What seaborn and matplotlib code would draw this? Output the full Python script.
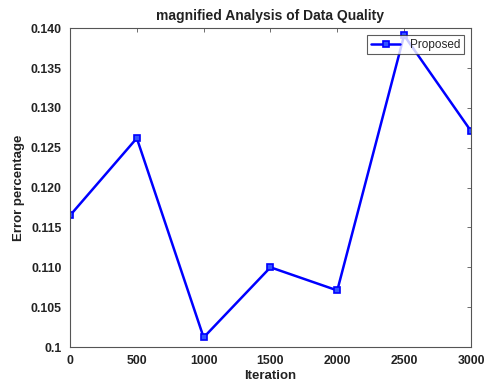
import matplotlib
matplotlib.use("Agg")
import matplotlib.pyplot as plt
import seaborn as sns
import pandas as pd
from matplotlib.ticker import FixedLocator, FixedFormatter

iterations = [0, 500, 1000, 1500, 2000, 2500, 3000]
error_pct = [0.1165, 0.1262, 0.1012, 0.1100, 0.1071, 0.1391, 0.1271]
y_ticks = [0.1, 0.105, 0.110, 0.115, 0.120, 0.125, 0.130, 0.135, 0.140]
y_tick_labels = ["0.1", "0.105", "0.110", "0.115", "0.120", "0.125", "0.130", "0.135", "0.140"]
x_ticks = [0, 500, 1000, 1500, 2000, 2500, 3000]

sns.set_style("white")
plt.rcParams['font.family'] = ['Liberation Sans', 'DejaVu Sans']

df = pd.DataFrame({"Iteration": iterations, "Error": error_pct, "series": "Proposed"})

fig = plt.figure(figsize=(4.86, 3.86), dpi=100)
ax = fig.add_axes([0.144, 0.101, 0.825, 0.826])
sns.lineplot(data=df, x="Iteration", y="Error", hue="series", palette=["#0000ff"],
             marker="s", markersize=4, linewidth=1.8, markeredgewidth=1.2,
             markeredgecolor="#0000ff", markerfacecolor="#3355ff",
             ax=ax)
ax.set_xlim(0, 3000)
ax.set_ylim(0.1, 0.14)
ax.yaxis.set_major_locator(FixedLocator(y_ticks))
ax.yaxis.set_major_formatter(FixedFormatter(y_tick_labels))
ax.set_xticks(x_ticks)
ax.tick_params(direction="in", length=3, width=0.6, color="#555555",
               top=True, right=True, labelsize=8.8, pad=6, labelcolor="#222222")
for lbl in ax.get_xticklabels() + ax.get_yticklabels():
    lbl.set_fontweight("bold")
for s in ax.spines.values():
    s.set_color("#555555")
    s.set_linewidth(0.8)
ax.set_xlabel("Iteration", fontsize=9.5, fontweight="bold", labelpad=2, color="#222222")
ax.set_ylabel("Error percentage", fontsize=9.5, fontweight="bold", labelpad=4, color="#222222")
ax.set_title("magnified Analysis of Data Quality", fontsize=10, fontweight="bold", pad=6, color="#222222")
leg = ax.legend(loc="upper right", fontsize=8.5, frameon=True, fancybox=False,
                borderpad=0.3, handlelength=2.5, borderaxespad=0.6)
leg.get_frame().set_edgecolor("#333333")
leg.get_frame().set_linewidth(0.8)
fig.savefig("out.png", dpi=100)
